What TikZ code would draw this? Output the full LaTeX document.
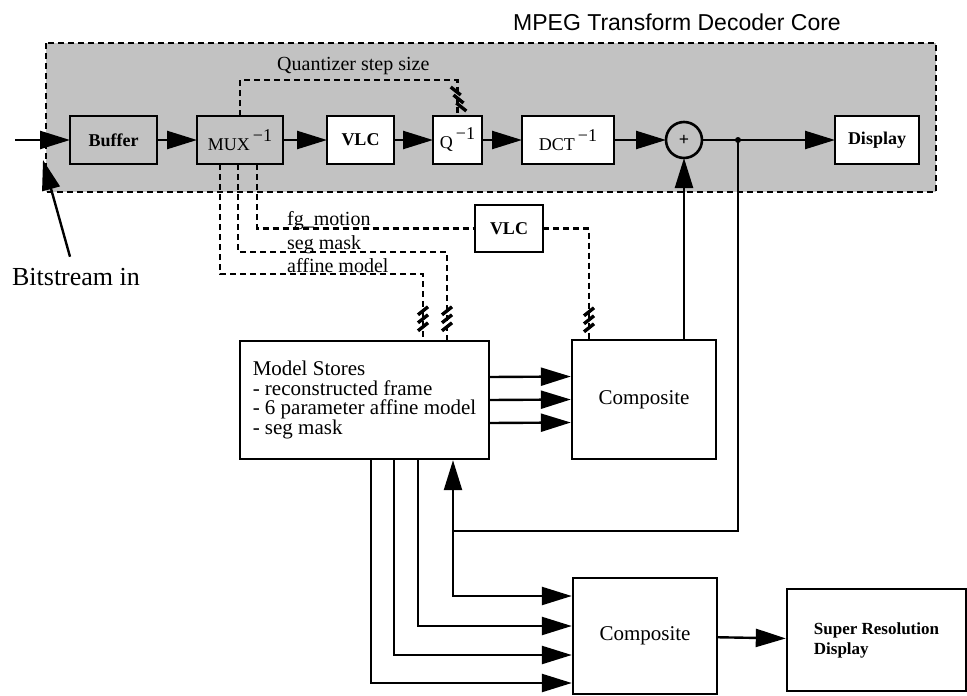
\documentclass[tikz,border=0pt]{standalone}
\usepackage{fontspec}
\setmainfont{Liberation Serif}
\newfontfamily\titlefont{Liberation Sans}
\usetikzlibrary{arrows.meta,positioning}

\newcommand\inv{\raisebox{9pt}{\fontsize{18}{18}\selectfont\,−1}}

\begin{document}
\begin{tikzpicture}[
    x=1pt, y=-1pt,
    node distance=40pt,
    block/.style={draw, line width=2.6pt, outer sep=0pt, fill=white, minimum height=48pt, inner sep=2pt, font=\fontsize{18}{20}\selectfont},
    core/.style={block, fill=none},
    bigbox/.style={draw, line width=2.4pt, fill=white, minimum width=144pt, font=\fontsize{21}{23}\selectfont},
    sumnode/.style={draw, circle, line width=2.6pt, outer sep=0pt, minimum size=36pt, inner sep=0pt, font=\bfseries\fontsize{18}{18}\selectfont},
    arrow/.style={-{Triangle[length=30pt, width=18pt]}, line width=2.4pt},
    link/.style={line width=2.4pt},
    ctrl/.style={line width=2.2pt, dash pattern=on 6pt off 4pt},
    tag/.style={font=\fontsize{20}{20}\selectfont, inner sep=0pt, anchor=base west},
    hatch/.pic={\foreach \k in {-8,0,8} \draw[line width=3.4pt] (-5,\k+4) -- (5,\k-4);},
    rhatch/.pic={\foreach \k in {-8,0,8} \draw[line width=3.4pt] (-5+\k*0.35,\k-4) -- (5+\k*0.35,\k+4);}
]
\useasboundingbox (0,0) rectangle (967,696);

% decoder core region
\fill[black!24] (46,43) rectangle (936,192);
\draw[ctrl] (46,43) rectangle (936,192);
\node[font=\titlefont\fontsize{23}{23}\selectfont] (title) at (677,22) {MPEG Transform Decoder Core};

% main decoder chain
\node[core, minimum width=87pt] (buffer) at (113.5,140) {\textbf{Buffer}};
\node[core, minimum width=86pt, right=of buffer] (mux) {MUX\inv};
\node[block, minimum width=67pt, right=44pt of mux] (vlc) {\textbf{VLC}};
\node[block, minimum width=49pt, right=39pt of vlc] (quant) {Q\inv};
\node[block, minimum width=92pt, right=of quant] (dct) {DCT\inv};
\node[sumnode, right=52pt of dct] (sum) {+};
\coordinate[right=36pt of sum] (tap);
\node[block, minimum width=84pt, right=133pt of sum] (display) {\textbf{Display}};

\coordinate (in) at (15,140);
\draw[arrow] (in) -- (buffer);
\draw[arrow] (buffer) -- (mux);
\draw[arrow] (mux) -- (vlc);
\draw[arrow] (vlc) -- (quant);
\draw[arrow] (quant) -- (dct);
\draw[arrow] (dct) -- (sum);
\draw[link] (sum) -- (tap);
\draw[arrow] (tap) -- (display);
\fill (tap) circle (3pt);

% bitstream label
\node[font=\fontsize{26}{28}\selectfont] (bits) at (76,277) {Bitstream in};
\coordinate (bitsin) at (43,160);
\draw[arrow] ([xshift=-6pt, yshift=8pt]bits.north) -- (bitsin);

% quantizer side info
\node[tag] (qlabel) at (277,70) {Quantizer step size};
\draw[ctrl] (mux.north) -- ++(0,-36) -| (quant.north);
\pic at ([xshift=1pt, yshift=17pt]quant.north) {rhatch};

% model stores and composites
\node[bigbox, minimum width=249pt, minimum height=118pt, align=left, font=\fontsize{21}{19.5}\selectfont] (store) at (364.5,400)
  {Model Stores\\- reconstructed frame\\- 6 parameter affine model\\- seg mask};
\node[bigbox, minimum height=119pt] (comp) at (644,399.5) {Composite};
\node[bigbox, minimum height=116pt] (comp2) at (645,636) {Composite};
\node[bigbox, minimum width=179pt, minimum height=102pt, align=left, font=\bfseries\fontsize{17}{20}\selectfont] (superres) at (876.5,640)
  {Super Resolution\\Display};
\node[block, minimum width=68pt, minimum height=47pt] (vlc2) at (509,228.5) {\textbf{VLC}};

% side info from demux
\coordinate (segm) at (447,252);
\coordinate (affm) at (423,274);
\draw[ctrl] ([xshift=17pt]mux.south) |- (vlc2.west);
\draw[ctrl] (vlc2.east) -| ([xshift=-55pt]comp.north);
\draw[ctrl] ([xshift=-2pt]mux.south) |- (segm) -- (store.north -| segm);
\draw[ctrl] ([xshift=-20pt]mux.south) |- (affm) -- (store.north -| affm);
\node[tag] (lblfg) at (287,225) {fg\_motion};
\node[tag] (lblseg) at (287,249) {seg mask};
\node[tag] (lblaff) at (287,272) {affine model};
\pic at ([yshift=21pt]store.north -| segm) {hatch};
\pic at ([yshift=21pt]store.north -| affm) {hatch};
\pic at ([xshift=-55pt, yshift=19pt]comp.north) {hatch};

% model stores to composite
\foreach \dy in {23,0,-23}
  \draw[arrow] ([yshift=\dy pt]store.east) -- ([yshift=\dy pt]comp.west);
\draw[arrow] (comp.north -| sum) -- (sum.south);

% feedback and super resolution path
\coordinate (fb) at ([xshift=88.5pt, yshift=-71pt]store.south);
\draw[link] (tap) |- (fb);
\draw[arrow] (fb) -- (store.south -| fb);
\draw[arrow] (fb) |- ([yshift=40pt]comp2.west);
\draw[arrow] ([xshift=53.5pt]store.south) |- ([yshift=10pt]comp2.west);
\draw[arrow] ([xshift=29.5pt]store.south) |- ([yshift=-19pt]comp2.west);
\draw[arrow] ([xshift=6.5pt]store.south) |- ([yshift=-47pt]comp2.west);
\draw[arrow] (comp2) -- (superres);
\end{tikzpicture}
\end{document}
